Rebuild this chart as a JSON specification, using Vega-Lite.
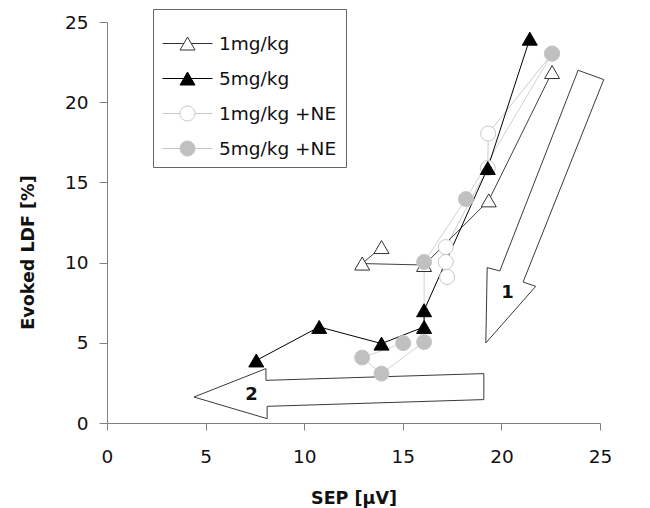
{
  "$schema": "https://vega.github.io/schema/vega-lite/v6.json",
  "width": 493,
  "height": 401,
  "autosize": {"type": "none"},
  "padding": {"left": 107, "top": 22, "right": 50, "bottom": 85},
  "background": "white",
  "config": {
    "view": {"stroke": null},
    "font": "DejaVu Sans",
    "axis": {
      "grid": false,
      "domainColor": "#808080",
      "tickColor": "#808080",
      "labelColor": "#111111",
      "labelFont": "DejaVu Sans",
      "labelFontSize": 18.5,
      "labelFlush": false,
      "labelOverlap": false,
      "titleFont": "DejaVu Sans",
      "titleFontWeight": "bold",
      "titleFontSize": 17.5,
      "titleColor": "#111111"
    },
    "legend": {
      "title": null,
      "orient": "none",
      "legendX": 46,
      "legendY": -13,
      "symbolSize": 2500,
      "symbolStrokeWidth": 1,
      "symbolOpacity": 1,
      "labelFont": "DejaVu Sans",
      "labelFontSize": 18.5,
      "labelColor": "#111111",
      "labelOffset": 6,
      "padding": 9,
      "rowPadding": 0,
      "strokeColor": "#666666",
      "fillColor": "white"
    }
  },
  "datasets": {
    "series": [
      {"series": "1mg/kg +NE", "order": 1, "x": 22.57, "y": 23.03},
      {"series": "1mg/kg +NE", "order": 2, "x": 19.33, "y": 18.04},
      {"series": "1mg/kg +NE", "order": 3, "x": 19.31, "y": 15.9},
      {"series": "1mg/kg +NE", "order": 4, "x": 17.18, "y": 10.97},
      {"series": "1mg/kg +NE", "order": 5, "x": 17.18, "y": 10.04},
      {"series": "1mg/kg +NE", "order": 6, "x": 17.25, "y": 9.1},
      {"series": "1mg/kg", "order": 1, "x": 22.57, "y": 21.88},
      {"series": "1mg/kg", "order": 2, "x": 19.36, "y": 13.88},
      {"series": "1mg/kg", "order": 3, "x": 16.08, "y": 9.85},
      {"series": "1mg/kg", "order": 4, "x": 12.94, "y": 9.94},
      {"series": "1mg/kg", "order": 5, "x": 13.92, "y": 10.97},
      {"series": "5mg/kg +NE", "order": 1, "x": 22.57, "y": 23.03},
      {"series": "5mg/kg +NE", "order": 2, "x": 18.2, "y": 13.96},
      {"series": "5mg/kg +NE", "order": 3, "x": 16.08, "y": 10.04},
      {"series": "5mg/kg +NE", "order": 4, "x": 16.08, "y": 5.05},
      {"series": "5mg/kg +NE", "order": 5, "x": 13.92, "y": 3.08},
      {"series": "5mg/kg +NE", "order": 6, "x": 12.94, "y": 4.08},
      {"series": "5mg/kg +NE", "order": 7, "x": 15.02, "y": 4.98},
      {"series": "5mg/kg", "order": 1, "x": 21.44, "y": 23.96},
      {"series": "5mg/kg", "order": 2, "x": 19.31, "y": 15.9},
      {"series": "5mg/kg", "order": 3, "x": 16.08, "y": 7.03},
      {"series": "5mg/kg", "order": 4, "x": 16.08, "y": 5.99},
      {"series": "5mg/kg", "order": 5, "x": 13.92, "y": 4.95},
      {"series": "5mg/kg", "order": 6, "x": 10.76, "y": 5.99},
      {"series": "5mg/kg", "order": 7, "x": 7.57, "y": 3.9}
    ],
    "arrows": [
      {"id": "a1", "order": 1, "x": 23.89, "y": 21.99},
      {"id": "a1", "order": 2, "x": 25.19, "y": 21.41},
      {"id": "a1", "order": 3, "x": 21.1, "y": 8.79},
      {"id": "a1", "order": 4, "x": 21.74, "y": 8.52},
      {"id": "a1", "order": 5, "x": 19.21, "y": 4.99},
      {"id": "a1", "order": 6, "x": 19.28, "y": 9.69},
      {"id": "a1", "order": 7, "x": 19.92, "y": 9.48},
      {"id": "a1", "order": 8, "x": 23.89, "y": 21.99},
      {"id": "a2", "order": 1, "x": 4.41, "y": 1.62},
      {"id": "a2", "order": 2, "x": 8.06, "y": 3.39},
      {"id": "a2", "order": 3, "x": 8.06, "y": 2.66},
      {"id": "a2", "order": 4, "x": 19.11, "y": 3.08},
      {"id": "a2", "order": 5, "x": 19.11, "y": 1.46},
      {"id": "a2", "order": 6, "x": 8.12, "y": 1.04},
      {"id": "a2", "order": 7, "x": 8.12, "y": 0.27},
      {"id": "a2", "order": 8, "x": 4.41, "y": 1.62}
    ],
    "labels": [
      {"label": "1", "x": 20.31, "y": 8.13},
      {"label": "2", "x": 7.33, "y": 1.73}
    ]
  },
  "layer": [
    {
      "data": {"name": "arrows"},
      "mark": {"type": "line", "stroke": "#3a3a3a", "strokeWidth": 1},
      "encoding": {
        "x": {
          "field": "x", "type": "quantitative",
          "scale": {"domain": [0, 25], "nice": false, "zero": false},
          "axis": {
            "values": [0, 5, 10, 15, 20, 25],
            "tickSize": 7,
            "labelPadding": 17,
            "title": "SEP [μV]",
            "titleBaseline": "alphabetic",
            "titleY": 80,
            "titleX": 246.5,
            "titleAlign": "center"
          }
        },
        "y": {
          "field": "y", "type": "quantitative",
          "scale": {"domain": [0, 25], "nice": false, "zero": false},
          "axis": {
            "values": [0, 5, 10, 15, 20, 25],
            "tickSize": 8,
            "labelPadding": 11,
            "title": "Evoked LDF [%]",
            "titleAngle": 270,
            "titleAlign": "center",
            "titleBaseline": "alphabetic",
            "titleX": -74,
            "titleY": 230
          }
        },
        "detail": {"field": "id"},
        "order": {"field": "order"}
      }
    },
    {
      "data": {"name": "labels"},
      "mark": {"type": "text", "fontWeight": "bold", "fontSize": 18, "font": "DejaVu Sans", "color": "#111111"},
      "encoding": {
        "x": {"field": "x", "type": "quantitative"},
        "y": {"field": "y", "type": "quantitative"},
        "text": {"field": "label"}
      }
    },
    {
      "data": {"name": "series"},
      "mark": {"type": "line", "strokeWidth": 1},
      "encoding": {
        "x": {"field": "x", "type": "quantitative"},
        "y": {"field": "y", "type": "quantitative"},
        "color": {
          "field": "series", "type": "nominal",
          "scale": {"domain": ["1mg/kg +NE", "5mg/kg +NE", "1mg/kg", "5mg/kg"], "range": ["#cccccc", "#d2d2d2", "#404040", "#000000"]},
          "legend": null
        },
        "order": {"field": "order"}
      }
    },
    {
      "data": {"name": "series"},
      "transform": [{"filter": "datum.series === '1mg/kg +NE'"}],
      "mark": {"type": "point", "shape": "circle", "opacity": 1, "size": 225, "strokeWidth": 1},
      "encoding": {
        "x": {"field": "x", "type": "quantitative"},
        "y": {"field": "y", "type": "quantitative"},
        "fill": {
          "field": "series", "type": "nominal",
          "scale": {"domain": ["1mg/kg", "5mg/kg", "1mg/kg +NE", "5mg/kg +NE"], "range": ["#ffffff", "#000000", "#ffffff", "#c0c0c0"]}
        },
        "stroke": {
          "field": "series", "type": "nominal",
          "scale": {"domain": ["1mg/kg", "5mg/kg", "1mg/kg +NE", "5mg/kg +NE"], "range": ["#333333", "#000000", "#c8c8c8", "#c6c6c6"]}
        }
      }
    },
    {
      "data": {"name": "series"},
      "transform": [{"filter": "datum.series === '1mg/kg' || datum.series === '5mg/kg'"}],
      "mark": {"type": "point", "shape": "triangle-up", "opacity": 1, "size": 225, "strokeWidth": 1},
      "encoding": {
        "x": {"field": "x", "type": "quantitative"},
        "y": {"field": "y", "type": "quantitative"},
        "fill": {
          "field": "series", "type": "nominal",
          "scale": {"domain": ["1mg/kg", "5mg/kg", "1mg/kg +NE", "5mg/kg +NE"], "range": ["#ffffff", "#000000", "#ffffff", "#c0c0c0"]}
        },
        "stroke": {
          "field": "series", "type": "nominal",
          "scale": {"domain": ["1mg/kg", "5mg/kg", "1mg/kg +NE", "5mg/kg +NE"], "range": ["#333333", "#000000", "#c8c8c8", "#c6c6c6"]}
        }
      }
    },
    {
      "data": {"name": "series"},
      "transform": [{"filter": "datum.series === '5mg/kg +NE'"}],
      "mark": {"type": "point", "shape": "circle", "opacity": 1, "size": 225, "strokeWidth": 1},
      "encoding": {
        "x": {"field": "x", "type": "quantitative"},
        "y": {"field": "y", "type": "quantitative"},
        "fill": {
          "field": "series", "type": "nominal",
          "scale": {"domain": ["1mg/kg", "5mg/kg", "1mg/kg +NE", "5mg/kg +NE"], "range": ["#ffffff", "#000000", "#ffffff", "#c0c0c0"]}
        },
        "stroke": {
          "field": "series", "type": "nominal",
          "scale": {"domain": ["1mg/kg", "5mg/kg", "1mg/kg +NE", "5mg/kg +NE"], "range": ["#333333", "#000000", "#c8c8c8", "#c6c6c6"]}
        }
      }
    },
    {
      "data": {"name": "series"},
      "transform": [{"filter": "false"}],
      "mark": {"type": "point", "opacity": 1, "strokeWidth": 1},
      "encoding": {
        "x": {"field": "x", "type": "quantitative"},
        "y": {"field": "y", "type": "quantitative"},
        "shape": {
          "field": "series", "type": "nominal",
          "scale": {
            "domain": ["1mg/kg", "5mg/kg", "1mg/kg +NE", "5mg/kg +NE"],
            "range": [
              "M-1,0H-0.15M0.15,0H1M0,-0.26L0.3,0.26L-0.3,0.26Z",
              "M-1,0H-0.15M0.15,0H1M0,-0.26L0.3,0.26L-0.3,0.26Z",
              "M-1,0H-0.3M0.3,0H1M0.3,0C0.3,0.166,0.166,0.3,0,0.3C-0.166,0.3,-0.3,0.166,-0.3,0C-0.3,-0.166,-0.166,-0.3,0,-0.3C0.166,-0.3,0.3,-0.166,0.3,0Z",
              "M-1,0H-0.3M0.3,0H1M0.3,0C0.3,0.166,0.166,0.3,0,0.3C-0.166,0.3,-0.3,0.166,-0.3,0C-0.3,-0.166,-0.166,-0.3,0,-0.3C0.166,-0.3,0.3,-0.166,0.3,0Z"
            ]
          }
        },
        "fill": {
          "field": "series", "type": "nominal",
          "scale": {"domain": ["1mg/kg", "5mg/kg", "1mg/kg +NE", "5mg/kg +NE"], "range": ["#ffffff", "#000000", "#ffffff", "#c0c0c0"]}
        },
        "stroke": {
          "field": "series", "type": "nominal",
          "scale": {"domain": ["1mg/kg", "5mg/kg", "1mg/kg +NE", "5mg/kg +NE"], "range": ["#333333", "#000000", "#c8c8c8", "#c6c6c6"]}
        }
      }
    }
  ]
}
